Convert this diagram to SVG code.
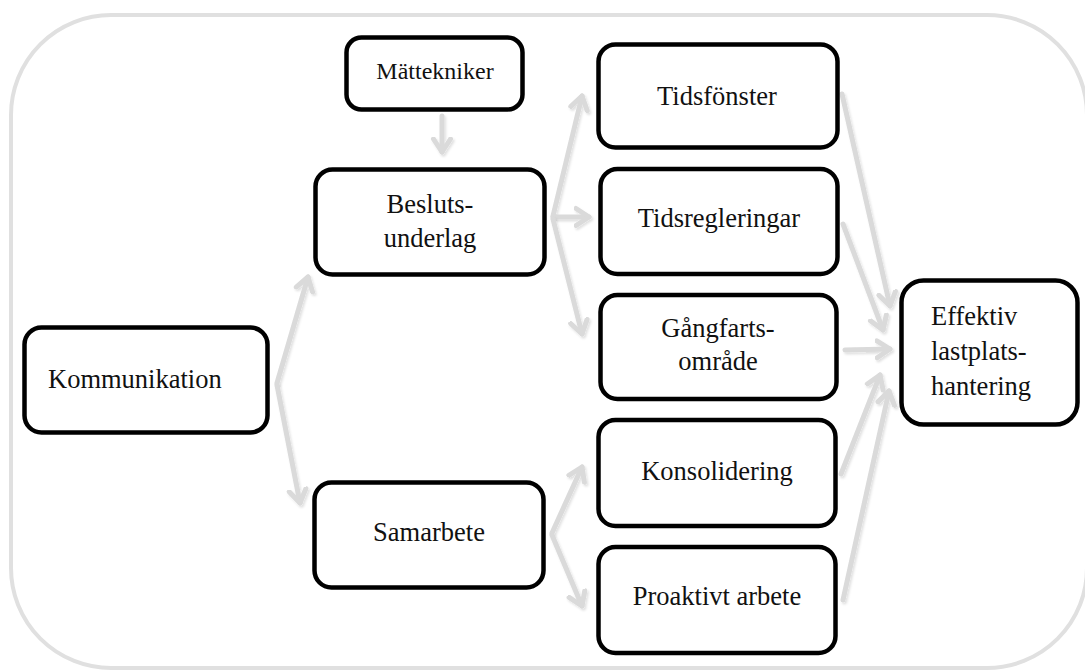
<svg xmlns="http://www.w3.org/2000/svg" width="1085" height="671" viewBox="0 0 1085 671">
<style>
.frame{fill:#ffffff;stroke:#e0e0e0;stroke-width:4}
.box{fill:#ffffff;stroke:#000000;stroke-width:4.5}
.t{font-family:"Liberation Serif","Times New Roman",serif;font-size:26.5px;fill:#111111}
.c{text-anchor:middle}
.s{font-size:24px}
.conn path{fill:none;stroke:#dadada;stroke-width:5;stroke-linecap:round;marker-end:url(#head);filter:url(#sh)}
</style>
<defs>
<filter id="sh" filterUnits="userSpaceOnUse" x="0" y="0" width="1085" height="671">
<feDropShadow dx="1.5" dy="2" stdDeviation="1.2" flood-color="#000000" flood-opacity="0.12"/>
</filter>
<marker id="head" markerUnits="userSpaceOnUse" markerWidth="30" markerHeight="30" refX="15" refY="15" orient="auto" viewBox="0 0 30 30">
<path d="M2,6.5 L15,15 L2,23.5" fill="none" stroke="#dadada" stroke-width="5" stroke-linecap="round" stroke-linejoin="round"/>
</marker>
</defs>
<rect class="frame" x="11" y="15" width="1076" height="653" rx="100" ry="100"/>
<g id="connectors" class="conn">
<path d="M442,116 L442,152"/>
<path d="M277,383 L308,277"/>
<path d="M277,385 L300,503"/>
<path d="M553,216 L582,96"/>
<path d="M553,217 L589,217"/>
<path d="M553,219 L582,334"/>
<path d="M552,533 L582,467"/>
<path d="M552,535 L582,606"/>
<path d="M842,94 L890,306"/>
<path d="M843,224 L883,330"/>
<path d="M845,350 L890,349"/>
<path d="M841,474 L880,375"/>
<path d="M843,600 L889,391"/>
</g>
<g id="n-matte"><rect class="box" x="346.5" y="37.5" width="176" height="72" rx="15"/><text class="t c s" x="435" y="79">Mättekniker</text></g>
<g id="n-komm"><rect class="box" x="24.5" y="327.5" width="243" height="105" rx="17"/><text class="t" x="48" y="388">Kommunikation</text></g>
<g id="n-beslut"><rect class="box" x="315.5" y="169.5" width="229" height="105" rx="17"/><text class="t c" x="430" y="213">Besluts-</text><text class="t c" x="430" y="247">underlag</text></g>
<g id="n-samarbete"><rect class="box" x="314.5" y="482.5" width="229" height="105" rx="17"/><text class="t c" x="429" y="541">Samarbete</text></g>
<g id="n-tidsf"><rect class="box" x="598.5" y="44.5" width="239" height="103" rx="17"/><text class="t c" x="717" y="105">Tidsfönster</text></g>
<g id="n-tidsr"><rect class="box" x="600.5" y="169" width="237" height="105" rx="17"/><text class="t c" x="719" y="227">Tidsregleringar</text></g>
<g id="n-gang"><rect class="box" x="600.5" y="295" width="236" height="104" rx="17"/><text class="t c" x="718" y="337">Gångfarts-</text><text class="t c" x="718" y="370">område</text></g>
<g id="n-kons"><rect class="box" x="598.5" y="420" width="237" height="106" rx="17"/><text class="t c" x="717" y="480">Konsolidering</text></g>
<g id="n-proakt"><rect class="box" x="598.5" y="547" width="237" height="106" rx="17"/><text class="t c" x="717" y="605">Proaktivt arbete</text></g>
<g id="n-effektiv"><rect class="box" x="901.5" y="280.5" width="176" height="144" rx="22"/><text class="t" x="931" y="325">Effektiv</text><text class="t" x="931" y="360">lastplats-</text><text class="t" x="931" y="395">hantering</text></g>
</svg>
